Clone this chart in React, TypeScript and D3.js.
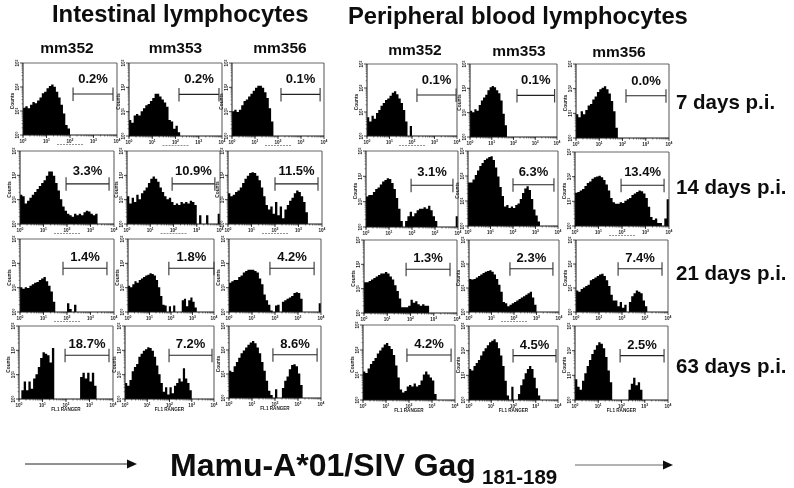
import React from "react";
import * as d3 from "d3";

const W = 794, H = 488;

// Histogram heights (percent of log-count axis) per 0.1-decade bin; rows by time point, mm352 / mm353 / mm356
const intestinal7 = [
  [38,40,37,42,46,44,48,52,58,60,65,68,70,67,60,52,42,30,14,9,0],
  [22,18,28,30,28,34,38,42,44,48,52,58,58,54,50,46,40,22,20,10,14,5,0],
  [34,36,33,36,42,48,50,54,58,62,66,69,69,66,60,52,38,20,0],
];
const intestinal14 = [
  [40,38,28,32,36,40,44,48,52,56,60,66,72,72,66,56,46,34,24,18,14,12,10,14,12,14,12,16,18,17,14,12,14,0],
  [38,28,36,30,40,34,42,46,50,56,62,65,62,58,50,44,38,34,36,30,26,28,26,30,28,30,28,32,30,26,0,12,0,0,12,0,0,0,0,14],
  [42,38,40,44,46,50,56,62,66,70,71,70,66,60,50,38,26,20,24,14,30,12,24,8,20,26,32,36,42,46,44,38,30,16,0],
];
const intestinal21 = [
  [34,32,34,33,36,38,40,41,44,46,48,42,36,28,14,0,0,0,0,0,12,4,0,10,0],
  [36,34,38,42,40,44,46,48,50,51,53,52,50,44,34,22,10,9,0,8,0,9,0,0,0,16,18,8,16,20,14,6,0],
  [40,42,44,44,48,50,54,56,58,58,58,56,54,46,38,24,16,10,2,0,9,10,0,14,16,18,20,22,26,27,26,18,0,0,0,0,0,0,0,12],
];
const intestinal63 = [
  [0,12,24,12,24,14,28,34,44,56,64,62,60,50,70,0,0,0,0,0,0,0,0,0,0,0,30,36,28,36,24,36,18,0],
  [22,18,26,38,44,48,58,62,66,68,71,70,66,58,46,34,22,10,16,6,16,8,18,22,28,24,42,28,22,12,0],
  [38,36,44,50,56,62,66,70,74,77,79,76,70,62,50,38,24,10,4,0,12,0,0,14,24,30,40,46,47,44,34,18,0],
];
const blood7 = [
  [26,20,28,24,32,36,42,46,50,52,56,60,62,58,52,46,36,20,0,14,0],
  [36,34,38,36,44,50,54,58,64,68,70,68,64,60,50,32,16,0],
  [32,28,36,32,38,44,46,52,56,62,66,68,70,66,60,50,36,14,0],
];
const blood14 = [
  [40,42,42,46,50,52,56,60,62,64,63,58,50,38,24,8,0,8,14,20,14,18,22,24,24,26,24,28,22,14,8,0,0,0,0,0,0,0,0,14],
  [58,58,62,68,74,80,84,88,90,92,93,88,78,66,52,40,26,28,24,26,24,28,30,36,44,50,53,48,36,22,14,6,0],
  [45,46,48,50,54,58,60,64,66,67,68,66,62,56,48,38,32,30,30,32,31,34,36,38,42,44,46,48,47,44,38,26,12,8,10,4,4,0,10,36],
];
const blood21 = [
  [42,42,44,46,48,50,52,54,54,56,54,50,46,38,30,20,8,8,8,10,18,14,16,12,10,12,10,10,0],
  [46,45,46,48,50,52,54,56,57,58,56,52,46,38,28,14,12,8,10,12,14,16,18,20,22,24,26,28,20,10,0],
  [30,28,32,34,36,38,44,46,48,50,52,53,50,44,36,24,16,16,8,14,6,10,0,14,22,26,30,28,26,16,8,0],
];
const blood63 = [
  [38,36,42,48,52,56,62,66,70,74,76,72,68,60,46,30,14,10,12,18,20,18,22,18,20,26,34,38,34,30,26,8,0],
  [42,40,46,50,54,60,66,70,74,78,80,82,78,70,60,46,26,6,0,18,0,0,8,20,28,36,42,46,42,30,16,6,0],
  [28,18,14,26,36,46,54,62,68,74,78,76,70,58,40,24,0,0,0,0,0,0,0,14,22,30,20,24,14,0],
];

const hist = [intestinal7, intestinal14, intestinal21, intestinal63, blood7, blood14, blood21, blood63];

const percents = [
  ["0.2%","0.2%","0.1%"], ["3.3%","10.9%","11.5%"], ["1.4%","1.8%","4.2%"], ["18.7%","7.2%","8.6%"],
  ["0.1%","0.1%","0.0%"], ["3.1%","6.3%","13.4%"], ["1.3%","2.3%","7.4%"], ["4.2%","4.5%","2.5%"],
];
// Gate limits as log10 of the fluorescence value
const gateLo = [
  [2.13,2.15,2.13],[1.96,1.94,2.0],[1.83,1.9,1.78],[1.96,1.98,1.91],
  [2.22,2.16,2.15],[1.96,2.0,1.96],[1.81,1.82,1.83],[1.91,1.98,1.94],
];
const gateHi = [
  [3.83,3.87,3.83],[3.79,3.78,3.83],[3.7,4.0,3.7],[3.83,3.91,3.83],
  [3.96,3.89,3.87],[3.78,3.82,3.79],[3.7,3.73,3.74],[3.83,3.91,3.83],
];
const gateLevel = [57, 55, 60, 60];
const labelGap = [11, 9, 7, 7];

const days = ["7 days p.i.", "14 days p.i.", "21 days p.i.", "63 days p.i."];
const dayBaseline = [109, 194, 280, 373];
const animals = ["mm352", "mm353", "mm356"];
const animalX = [67, 175.5, 280, 415, 519, 619];
const animalY = [53, 53, 53, 55, 56, 57];
const xDecades = [0, 1, 2, 3, 4];
const yDecades = [0, 1, 2, 3];
// which panels carry the faint dashed mark below their axis
const dashed = [
  [1,1,1],[1,1,1],[1,0,0],[0,0,0],
  [1,0,0],[0,0,1],[0,1,0],[0,0,0],
];

// panel frames [x0, x1, y0, y1]
const frames = [
  [[23,117,63,135],[129,222,63,136],[232,324,63,136]],
  [[20,114,151,224],[127,220,151,224],[228,322,151,224]],
  [[20,114,239,312],[128,214,239,312],[229,321,239,312]],
  [[19,113,326,399],[125,214,326,399],[229,321,326,398]],
  [[367,457,64,136],[470,557,64,137],[576,669,64,138]],
  [[366,458,151,227],[468,558,151,226],[575,669,152,226]],
  [[364,457,240,313],[469,559,240,312],[576,668,240,312]],
  [[363,455,325,400],[469,558,326,400],[575,668,326,400]],
];

const FONT = "'Liberation Sans', Arial, sans-serif";

function Panel({ frame, values, pct, lo, hi, level, gap, row, dash }: any) {
  const [x0, x1, y0, y1] = frame;
  const x = d3.scaleLog().domain([1, 1e4]).range([x0, x1]);
  const y = d3.scaleLinear().domain([0, 100]).range([y1, y0]);
  const bins = [...values.map((v: number, i: number) => ({ e: i / 10, v })), { e: values.length / 10, v: 0 }];
  const area = d3.area<any>()
    .x((d) => x(Math.pow(10, d.e)))
    .y0(y(0))
    .y1((d) => y(d.v))
    .curve(d3.curveStepAfter);
  const gx0 = x(Math.pow(10, lo));
  const gx1 = x(Math.pow(10, hi));
  const gy = y(level);
  const minor: number[] = [];
  xDecades.slice(0, 4).forEach((d) => {
    for (let m = 1; m < 10; m++) minor.push(m * Math.pow(10, d));
  });
  const yMinor: number[] = [];
  yDecades.slice(0, 3).forEach((d) => {
    for (let m = 2; m < 10; m++) yMinor.push((d + Math.log10(m)) * (100 / 3));
  });
  const lastRow = row === 3;
  const cx = (x0 + x1) / 2;
  return (
    <g>
      <path d={area(bins) as string} fill="#060606" />
      <line x1={x0} x2={x1} y1={y0} y2={y0} stroke="#666" strokeWidth={1} />
      <line x1={x1} x2={x1} y1={y0} y2={y1} stroke="#555" strokeWidth={1} />
      <line x1={x0} x2={x0} y1={y0} y2={y1} stroke="#111" strokeWidth={1} />
      <line x1={x0} x2={x1} y1={y1} y2={y1} stroke="#111" strokeWidth={1} />
      {minor.map((m, i) => (
        <line key={i} x1={x(m)} x2={x(m)} y1={y1} y2={y1 + 1.5} stroke="#222" strokeWidth={0.6} />
      ))}
      {yMinor.map((m, i) => (
        <line key={i} x1={x0} x2={x0 - 1.5} y1={y(m)} y2={y(m)} stroke="#333" strokeWidth={0.5} />
      ))}
      {xDecades.map((d) => (
        <g key={d}>
          <line x1={x(Math.pow(10, d))} x2={x(Math.pow(10, d))} y1={y1} y2={y1 + 3} stroke="#111" strokeWidth={0.8} />
          <text x={x(Math.pow(10, d))} y={y1 + 7.5} fontSize={4.6} fontWeight="bold" textAnchor="middle" fill="#222">
            10<tspan dy={-1.5} fontSize={3.4}>{d}</tspan>
          </text>
        </g>
      ))}
      {yDecades.map((d) => {
        const p = y(d * (100 / 3));
        return (
          <g key={d}>
            <line x1={x0} x2={x0 - 3} y1={p} y2={p} stroke="#111" strokeWidth={0.8} />
            <text transform={`translate(${x0 - 4},${p}) rotate(-90)`} fontSize={4.6} fontWeight="bold" textAnchor="middle" fill="#222">
              10<tspan dy={-1.5} fontSize={3.4}>{d}</tspan>
            </text>
          </g>
        );
      })}
      <text transform={`translate(${x0 - 9},${(y0 + y1) / 2 + 2}) rotate(-90)`} fontSize={4.8} fontWeight="bold" textAnchor="middle" fill="#222">Counts</text>
      {lastRow ? (
        <text x={cx} y={y1 + 11.5} fontSize={4.6} fontWeight="bold" textAnchor="middle" fill="#222">FL1 RANGER</text>
      ) : dash ? (
        <line x1={cx - 13} x2={cx + 13} y1={y1 + 9.5} y2={y1 + 9.5} stroke="#777" strokeWidth={0.8} strokeDasharray="2 1" />
      ) : null}
      <line x1={gx0} x2={gx1} y1={gy} y2={gy} stroke="#222" strokeWidth={1.1} />
      <line x1={gx0} x2={gx0} y1={gy - 6.5} y2={gy + 7} stroke="#333" strokeWidth={1.1} />
      <line x1={gx1} x2={gx1} y1={gy - 6.5} y2={gy + 7} stroke="#333" strokeWidth={1.1} />
      <text x={(gx0 + gx1) / 2} y={gy - gap} fontSize={13} fontWeight="bold" textAnchor="middle" fill="#111">{pct}</text>
    </g>
  );
}

function Arrow({ x1, x2, y, color }: any) {
  return (
    <g>
      <line x1={x1} x2={x2 - 8} y1={y} y2={y} stroke={color} strokeWidth={1} />
      <path d={`M${x2 - 10},${y - 4.5} L${x2},${y} L${x2 - 10},${y + 4.5} Z`} fill="#111" />
    </g>
  );
}

export default function App() {
  return (
    <svg width={W} height={H} viewBox={`0 0 ${W} ${H}`} style={{ position: "absolute", left: 0, top: 0, background: "#fff" }} fontFamily={FONT}>
      <defs>
        <filter id="scan" x="0" y="0" width="100%" height="100%">
          <feGaussianBlur stdDeviation="0.35" />
        </filter>
      </defs>
      <g filter="url(#scan)">
        <text x={52} y={22} fontSize={23.8} fontWeight="bold" fill="#0a0a0a">Intestinal lymphocytes</text>
        <text x={348} y={24} fontSize={23.8} fontWeight="bold" fill="#0a0a0a">Peripheral blood lymphocytes</text>
        {animalX.map((ax, i) => (
          <text key={i} x={ax} y={animalY[i]} fontSize={15.5} fontWeight="bold" textAnchor="middle" fill="#111">{animals[i % 3]}</text>
        ))}
        {frames.map((rowFrames, b) =>
          rowFrames.map((f, c) => (
            <Panel
              key={`${b}-${c}`}
              frame={f}
              values={hist[b][c]}
              pct={percents[b][c]}
              lo={gateLo[b][c]}
              hi={gateHi[b][c]}
              level={gateLevel[b % 4]}
              gap={labelGap[b % 4]}
              row={b % 4}
              dash={dashed[b][c] === 1}
            />
          ))
        )}
        {days.map((d, i) => (
          <text key={d} x={676} y={dayBaseline[i]} fontSize={20.5} fontWeight="bold" fill="#111">{d}</text>
        ))}
        <Arrow x1={25} x2={137} y={464} color="#222" />
        <Arrow x1={575} x2={673} y={465} color="#666" />
        <text x={170} y={476} fontSize={32} fontWeight="bold" fill="#0a0a0a">Mamu-A*01/SIV Gag</text>
        <text x={482} y={483.5} fontSize={20.5} fontWeight="bold" fill="#0a0a0a">181-189</text>
      </g>
    </svg>
  );
}
